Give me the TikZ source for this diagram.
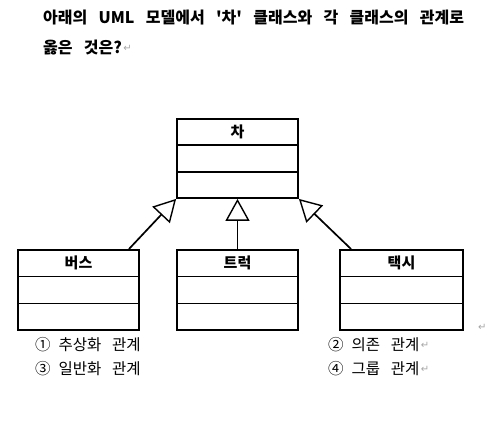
\documentclass[tikz,border=0pt]{standalone}
\usepackage{fontspec}
\setmainfont{Noto Sans CJK KR}[WordSpace=3.1, Ligatures=TeXOff]
\newfontfamily\markfont{DejaVu Sans}
\usetikzlibrary{positioning,arrows.meta,calc}

\begin{document}
\begin{tikzpicture}[
    x=1pt, y=1pt,
    cls/.style     = {draw, line width=1.8pt, minimum width=121pt, minimum height=79pt,
                      inner sep=0pt},
    clsname/.style = {font=\fontsize{15}{15}\selectfont\bfseries, inner sep=0pt},
    divl/.style    = {draw, line width=1.4pt},
    gen/.style     = {draw, line width=1.7pt,
                      -{Triangle[open, length=22pt, width=24pt, line width=1.4pt]}},
    qtxt/.style    = {font=\fontsize{16}{16}\selectfont\bfseries, anchor=west, inner sep=0pt},
    opt/.style     = {font=\fontsize{15.5}{15.5}\selectfont, anchor=west, inner sep=0pt},
    pmark/.style   = {font=\markfont\fontsize{10}{10}\selectfont, text=gray!70, inner sep=0pt},
]
\useasboundingbox (0,0) rectangle (502,430);

% ============ question ============
\node[qtxt] (q1) at (43,412) {아래의 UML 모델에서 '차' 클래스와 각 클래스의 관계로};
\node[qtxt] (q2) at (43,382) {옳은 것은?};
\node[pmark, right=1pt of q2] (q2m) {↵};

% ============ classes ============
\node[cls] (car)   at (237.5,271.5) {};
\node[cls, minimum height=80pt] (bus)   at (78.5,140)  {};
\node[cls, minimum height=80pt] (truck) at (237.5,140) {};
\node[cls, minimum height=80pt, minimum width=123pt] (taxi) at (401.5,140) {};
\foreach \c in {car,bus,truck,taxi} {
  \draw[divl] ($(\c.north west)!0.335!(\c.south west)$) -- ($(\c.north east)!0.335!(\c.south east)$);
  \draw[divl] ($(\c.north west)!0.665!(\c.south west)$) -- ($(\c.north east)!0.665!(\c.south east)$);
}
\node[clsname] (carT)   at ($(car.north)!0.167!(car.south)$)     {차};
\node[clsname] (busT)   at ($(bus.north)!0.167!(bus.south)$)     {버스};
\node[clsname] (truckT) at ($(truck.north)!0.167!(truck.south)$) {트럭};
\node[clsname] (taxiT)  at ($(taxi.north)!0.167!(taxi.south)$)   {택시};
\node[pmark, right=14pt of taxi.south east, anchor=south west] (taxim) {↵};

% generalisation arrows
\draw[gen] ([xshift=-11pt]bus.north east) -- (car.south west);
\draw[gen] (truck.north) -- (car.south);
\draw[gen] ([xshift=12pt]taxi.north west) -- (car.south east);

% ============ choices ============
\node[opt] (o1) at (35,85)  {①\hspace{8pt}추상화 관계};
\node[opt] (o2) at (328,85) {②\hspace{8pt}의존 관계};
\node[opt] (o3) at (35,61)  {③\hspace{8pt}일반화 관계};
\node[opt] (o4) at (328,61) {④\hspace{8pt}그룹 관계};
\node[pmark, right=1pt of o2] (o2m) {↵};
\node[pmark, right=1pt of o4] (o4m) {↵};

\end{tikzpicture}
\end{document}
